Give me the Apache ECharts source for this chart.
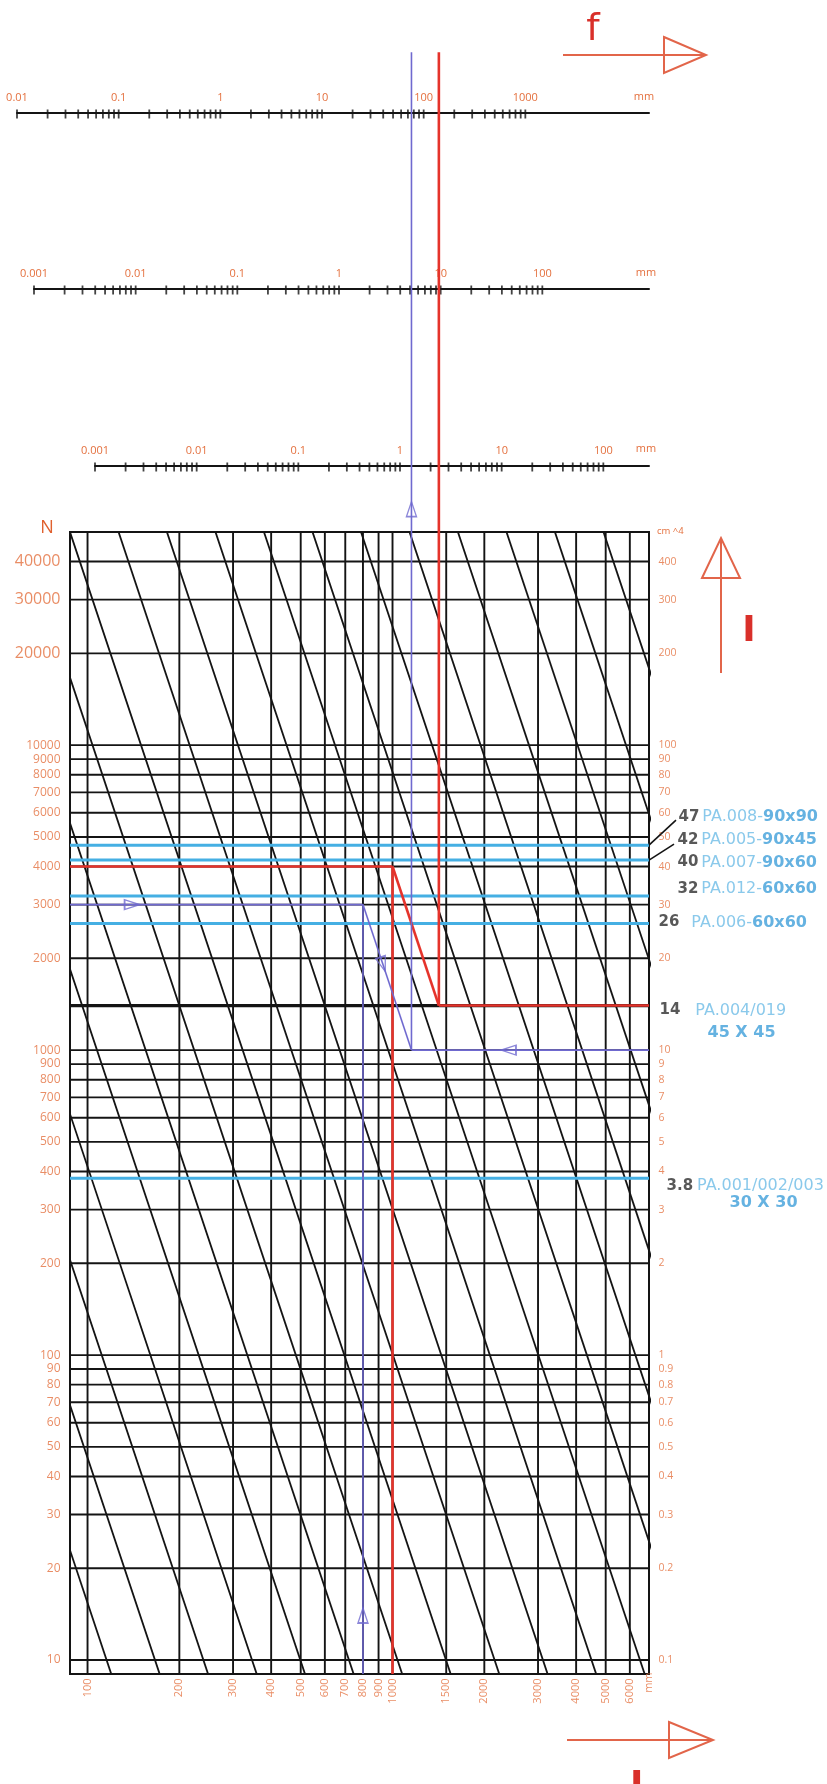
<!DOCTYPE html>
<html>
<head>
<meta charset="utf-8">
<title>Nomogram</title>
<script src="https://cdn.jsdelivr.net/npm/echarts@6/dist/echarts.min.js"></script>
<style>
html,body{margin:0;padding:0;background:#ffffff;}
#chart{width:827px;height:1784px;}
</style>
</head>
<body>
<div id="chart"></div>
<script>
// ================= DATA =================
// Length axis L (mm): vertical grid lines, labelled along the bottom
const L_VALUES = [100, 200, 300, 400, 500, 600, 700, 800, 900, 1000, 1500, 2000, 3000, 4000, 5000, 6000];
// Load axis N: horizontal grid lines, labelled on the left
const N_VALUES = [10, 20, 30, 40, 50, 60, 70, 80, 90, 100, 200, 300, 400, 500, 600, 700, 800, 900,
                  1000, 2000, 3000, 4000, 5000, 6000, 7000, 8000, 9000, 10000, 20000, 30000, 40000];
// Moment of inertia axis I (cm^4): labels on the right (same scale as N/100)
const I_VALUES = [0.1, 0.2, 0.3, 0.4, 0.5, 0.6, 0.7, 0.8, 0.9, 1, 2, 3, 4, 5, 6, 7, 8, 9,
                  10, 20, 30, 40, 50, 60, 70, 80, 90, 100, 200, 300, 400];
// Diagonal family: lines of constant N·L³ (N·mm³)
const DIAG_C = [1.54e7, 4.61e7, 1.38e8, 4.15e8, 1.24e9, 3.73e9, 1.12e10, 3.36e10, 1.01e11, 3.02e11,
                9.07e11, 2.72e12, 8.17e12, 2.45e13, 7.35e13, 2.2e14, 6.61e14, 1.98e15, 5.95e15];
// Profiles (I in cm^4)
const PROFILE_I    = [47, 42, 40, 32, 26, 14, 3.8];
const PROFILE_CODE = ['PA.008-', 'PA.005-', 'PA.007-', 'PA.012-', 'PA.006-', 'PA.004/019', 'PA.001/002/003'];
const PROFILE_SIZE = ['90x90', '90x45', '90x60', '60x60', '60x60', '45 X 45', '30 X 30'];
const BLUE_I  = [47, 42, 32, 26, 3.8];
const THICK_I = [14];
// Worked examples (N, L in mm, I in cm^4)
const RED_EX    = {N: 4000, L: 1000, I: 14};
const PURPLE_EX = {N: 3000, L: 800, I: 10};
// Purple arrow marks along the example path
const ARROW_ON_N_LINE_L   = 140;    // on the N=3000 line
const ARROW_ON_L_LINE_N   = 14;     // on the L=800 line
const ARROW_ON_DIAG_L     = 930;    // on the diagonal
const ARROW_ON_I_LINE_L   = 2400;   // on the I=10 line
const ARROW_ABOVE_GRID_N  = 59400;  // on the reading line above the grid
const READ_TOP_N = 1.87e6;          // reading lines run up to the top scale
// Deflection scales f (mm)
const F1_LABELS = [0.01, 0.1, 1, 10, 100, 1000];
const F2_LABELS = [0.001, 0.01, 0.1, 1, 10, 100];
const F3_LABELS = [0.001, 0.01, 0.1, 1, 10, 100];
const F1_DECADES = [0.01, 0.1, 1, 10, 100];
const F2_DECADES = [0.001, 0.01, 0.1, 1, 10];
const F3_DECADES = [0.001, 0.01, 0.1, 1, 10];
const TICK_MULT = [1, 2, 3, 4, 5, 6, 7, 8, 9];
// Axis extents
const L_MIN = 87.6, L_MAX = 6934;
const N_MIN = 9, N_MAX = 50000;
const I_MIN = 0.09, I_MAX = 500;

// ================= STYLE / LAYOUT =================
const FONT = '"Open Sans", "Noto Sans", sans-serif';
const ANN_FONT = '"DejaVu Sans", sans-serif';
const ORANGE = '#e4703e';
const BLACK = '#141414';
const RED = '#e5332b';
const PURPLE = '#6f69cf';
const BLUE = '#45afe3';
const ARROW_RED = '#e2654a';
const GRID = {left: 70, top: 532, width: 579, height: 1142};
const F_DECADE_PX = 305 / 3;
const SCALES = [
  {left: 17, top: 113, width: 632, min: 0.01,  labels: F1_LABELS, decades: F1_DECADES, last: 1000},
  {left: 34, top: 289, width: 615, min: 0.001, labels: F2_LABELS, decades: F2_DECADES, last: 100},
  {left: 95, top: 466, width: 554, min: 0.001, labels: F3_LABELS, decades: F3_DECADES, last: 100}
];
const ANN_LAYOUT = [
  {dx: 29, dy: -28, gap: 3},
  {dx: 28, dy: -20, gap: 3},
  {dx: 28, dy: -4,  gap: 3},
  {dx: 28, dy: -7,  gap: 3},
  {dx: 9,  dy: -1,  gap: 12},
  {dx: 10, dy: 5,   gap: 15, sub: {dx: 58, dy: 27}},
  {dx: 17, dy: 8,   gap: 4,  sub: {dx: 80, dy: 25}}
];

const clean = v => Number(Number(v).toPrecision(6));

// ================= BUILD =================
const chart = echarts.init(document.getElementById('chart'), null, {renderer: 'canvas', width: 827, height: 1784});

const grids = [Object.assign({show: true, borderColor: BLACK, borderWidth: 2, backgroundColor: 'rgba(0,0,0,0)', containLabel: false}, GRID)];
const xAxes = [{type: 'log', gridIndex: 0, min: L_MIN, max: L_MAX, show: false}];
const yAxes = [
  {type: 'log', gridIndex: 0, min: N_MIN, max: N_MAX, show: false},
  {type: 'log', gridIndex: 0, min: I_MIN, max: I_MAX, show: false, position: 'right'}
];
const series = [];

function addLine(data, color, width, opts) {
  series.push(Object.assign({
    type: 'line', xAxisIndex: 0, yAxisIndex: 0, data: data, symbol: 'none', showSymbol: false,
    silent: true, animation: false, clip: true, z: 2,
    lineStyle: {color: color, width: width, cap: 'butt'}
  }, opts || {}));
}

// grid lines
L_VALUES.forEach(v => addLine([[v, N_MIN], [v, N_MAX]], BLACK, 1.9));
N_VALUES.forEach(n => addLine([[L_MIN, n], [L_MAX, n]], BLACK, 1.9));
// diagonals N·L³ = C
DIAG_C.forEach(c => {
  const n1 = N_MAX * 10, n2 = N_MIN / 10;
  addLine([[Math.cbrt(c / n1), n1], [Math.cbrt(c / n2), n2]], BLACK, 1.8, {z: 3});
});
// profile lines
BLUE_I.forEach(i => addLine([[L_MIN, i], [L_MAX, i]], BLUE, 3, {yAxisIndex: 1, z: 4}));
THICK_I.forEach(i => addLine([[L_MIN, i], [L_MAX, i]], BLACK, 3.2, {yAxisIndex: 1, z: 4}));

// worked examples
function examplePath(ex, color, width) {
  const nEnd = ex.I * 100;                       // I on the N scale
  const lEnd = ex.L * Math.cbrt(ex.N / nEnd);    // follow N·L³ diagonal down to I
  addLine([[L_MIN, ex.N], [ex.L, ex.N]], color, width, {z: 5});
  addLine([[ex.L, N_MIN], [ex.L, ex.N]], color, width, {z: 5});
  addLine([[ex.L, ex.N], [lEnd, nEnd]], color, width, {z: 5});
  addLine([[lEnd, nEnd], [L_MAX, nEnd]], color, width, {z: 5});
  addLine([[lEnd, nEnd], [lEnd, READ_TOP_N]], color, width, {z: 5, clip: false});
  return lEnd;
}
examplePath(RED_EX, RED, 2.6);
const purpleEnd = examplePath(PURPLE_EX, PURPLE, 1.6);

// purple arrow heads
const diagN = PURPLE_EX.N * Math.pow(PURPLE_EX.L / ARROW_ON_DIAG_L, 3);
series.push({
  type: 'scatter', xAxisIndex: 0, yAxisIndex: 0, clip: false, silent: true, animation: false, z: 7,
  symbol: 'triangle', symbolSize: [10, 15],
  itemStyle: {color: 'rgba(255,255,255,0)', borderColor: PURPLE, borderWidth: 1.5},
  data: [
    {value: [ARROW_ON_N_LINE_L, PURPLE_EX.N], symbolRotate: -90},
    {value: [PURPLE_EX.L, ARROW_ON_L_LINE_N], symbolRotate: 0},
    {value: [ARROW_ON_DIAG_L, diagN], symbolRotate: 180 + 18.4},
    {value: [ARROW_ON_I_LINE_L, PURPLE_EX.I * 100], symbolRotate: 90},
    {value: [purpleEnd, ARROW_ABOVE_GRID_N], symbolRotate: 0}
  ]
});

const labelBase = {type: 'scatter', xAxisIndex: 0, silent: true, animation: false, clip: false, z: 10,
  symbolSize: 1, itemStyle: {color: 'rgba(0,0,0,0)'}};

// left N labels
series.push(Object.assign({}, labelBase, {
  yAxisIndex: 0,
  data: N_VALUES.map(n => ({value: [L_MIN, n], label: {fontSize: n >= 20000 ? 16 : 12}})),
  label: {show: true, position: 'left', distance: 9, color: ORANGE, fontFamily: FONT, fontSize: 12,
          formatter: p => String(p.value[1])}
}));
// right I labels
series.push(Object.assign({}, labelBase, {
  yAxisIndex: 1,
  data: I_VALUES.map(i => [L_MAX, i]),
  label: {show: true, position: 'right', distance: 9, color: ORANGE, fontFamily: FONT, fontSize: 10.5,
          formatter: p => String(clean(p.value[1]))}
}));
// bottom L labels (rotated)
series.push(Object.assign({}, labelBase, {
  yAxisIndex: 0,
  data: L_VALUES.map(v => ({value: [v, N_MIN]})).concat([{value: [L_MAX, N_MIN], name: 'mm', label: {offset: [6, 0]}}]),
  label: {show: true, position: 'bottom', distance: 4, rotate: 90, align: 'right', verticalAlign: 'middle',
          color: ORANGE, fontFamily: FONT, fontSize: 11,
          formatter: p => p.name === 'mm' ? 'mm' : String(p.value[0])}
}));
// profile annotations
series.push(Object.assign({}, labelBase, {
  yAxisIndex: 1, z: 12,
  data: PROFILE_I.map((iv, k) => {
    const lay = ANN_LAYOUT[k];
    const twoLine = !!lay.sub;
    const txt = '{n|' + iv + '}' + '{g' + k + '|}' + (twoLine ? '{c|' + PROFILE_CODE[k] + '}' : '{c|' + PROFILE_CODE[k] + '}{d|' + PROFILE_SIZE[k] + '}');
    const rich = {};
    rich['g' + k] = {width: lay.gap};
    return {value: [L_MAX, iv], label: {offset: [lay.dx, lay.dy], formatter: txt, rich: rich}};
  }).concat(PROFILE_I.map((iv, k) => ANN_LAYOUT[k].sub ? {
    value: [L_MAX, iv],
    label: {offset: [ANN_LAYOUT[k].sub.dx, ANN_LAYOUT[k].sub.dy], formatter: '{d|' + PROFILE_SIZE[k] + '}'}
  } : null).filter(Boolean)),
  label: {
    show: true, position: 'right', distance: 0,
    rich: {
      n: {fontFamily: ANN_FONT, fontSize: 15, fontWeight: 'bold', color: '#2e2e2e'},
      c: {fontFamily: ANN_FONT, fontSize: 16, color: '#6dbbe6'},
      d: {fontFamily: ANN_FONT, fontSize: 16, fontWeight: 'bold', color: '#3f9fd9'}
    }
  }
}));

// deflection scales
SCALES.forEach((s, k) => {
  const gi = k + 1;
  const max = s.min * Math.pow(10, s.width / F_DECADE_PX);
  grids.push({left: s.left, top: s.top, width: s.width, height: 2, show: false});
  xAxes.push({
    type: 'log', gridIndex: gi, min: s.min, max: max, position: 'top',
    axisLine: {show: true, onZero: false, lineStyle: {color: BLACK, width: 2}},
    axisTick: {show: false}, splitLine: {show: false},
    axisLabel: {show: true, margin: 10, color: ORANGE, fontFamily: FONT, fontSize: 11,
      showMinLabel: true, showMaxLabel: false,
      formatter: v => { const r = clean(v); return s.labels.indexOf(r) >= 0 ? String(r) : ''; }}
  });
  yAxes.push({type: 'value', gridIndex: gi, min: -1, max: 1, show: false});
  const ticks = [];
  s.decades.forEach(d => TICK_MULT.forEach(m => ticks.push(clean(d * m))));
  ticks.push(s.last);
  series.push({
    type: 'scatter', xAxisIndex: gi, yAxisIndex: gi + 1, silent: true, animation: false, clip: false, z: 4,
    symbol: 'rect', symbolSize: [1.8, 9], itemStyle: {color: BLACK},
    data: ticks.map(t => [t, 0])
  });
});

chart.setOption({
  backgroundColor: '#ffffff',
  animation: false,
  grid: grids,
  xAxis: xAxes,
  yAxis: yAxes,
  series: series
});

// ================= DECORATION (units, arrows, leaders) =================
const px = (l, i) => chart.convertToPixel({xAxisIndex: 0, yAxisIndex: 1}, [l, i]);
const p47 = px(L_MAX, 47), p42 = px(L_MAX, 42);
const txtStyle = (text, fill, font, align, vAlign) => ({text: text, fill: fill, font: font,
  align: align, verticalAlign: vAlign, textAlign: align, textVerticalAlign: vAlign});
const graphics = [
  // leaders for 47 / 42
  {type: 'line', shape: {x1: p47[0], y1: p47[1], x2: p47[0] + 27, y2: p47[1] - 25}, style: {stroke: BLACK, lineWidth: 1.6}, z: 20},
  {type: 'line', shape: {x1: p42[0], y1: p42[1], x2: p42[0] + 25, y2: p42[1] - 16}, style: {stroke: BLACK, lineWidth: 1.6}, z: 20},
  // unit labels
  {type: 'text', x: 47, y: 528, style: txtStyle('N', '#e0602e', '18px "Open Sans", sans-serif', 'center', 'middle'), z: 20},
  {type: 'text', x: 657, y: 531, style: txtStyle('cm ^4', ORANGE, '9.5px "Open Sans", sans-serif', 'left', 'middle'), z: 20},
  {type: 'text', x: 644, y: 97, style: txtStyle('mm', ORANGE, '11px "Open Sans", sans-serif', 'center', 'middle'), z: 20},
  {type: 'text', x: 646, y: 273, style: txtStyle('mm', ORANGE, '11px "Open Sans", sans-serif', 'center', 'middle'), z: 20},
  {type: 'text', x: 646, y: 449, style: txtStyle('mm', ORANGE, '11px "Open Sans", sans-serif', 'center', 'middle'), z: 20},
  // f arrow
  {type: 'line', shape: {x1: 563, y1: 55, x2: 706, y2: 55}, style: {stroke: ARROW_RED, lineWidth: 2}, z: 20},
  {type: 'polygon', shape: {points: [[664, 37], [706, 55], [664, 73]]}, style: {fill: 'none', stroke: ARROW_RED, lineWidth: 2}, z: 20},
  {type: 'text', x: 593, y: 30, style: txtStyle('f', '#d9302a', '38px "DejaVu Sans", sans-serif', 'center', 'middle'), z: 20},
  // I arrow
  {type: 'line', shape: {x1: 721, y1: 538, x2: 721, y2: 673}, style: {stroke: ARROW_RED, lineWidth: 2}, z: 20},
  {type: 'polygon', shape: {points: [[702, 578], [721, 538], [740, 578]]}, style: {fill: 'none', stroke: ARROW_RED, lineWidth: 2}, z: 20},
  {type: 'text', x: 749, y: 632, style: txtStyle('I', '#d9302a', 'bold 36px "DejaVu Sans", sans-serif', 'center', 'middle'), z: 20},
  // L arrow
  {type: 'line', shape: {x1: 567, y1: 1740, x2: 713, y2: 1740}, style: {stroke: ARROW_RED, lineWidth: 2}, z: 20},
  {type: 'polygon', shape: {points: [[669, 1722], [713, 1740], [669, 1758]]}, style: {fill: 'none', stroke: ARROW_RED, lineWidth: 2}, z: 20},
  {type: 'text', x: 630, y: 1769, style: txtStyle('L', '#d9302a', 'bold 36px "DejaVu Sans", sans-serif', 'left', 'top'), z: 20}
];
chart.setOption({graphic: graphics});
</script>
</body>
</html>
